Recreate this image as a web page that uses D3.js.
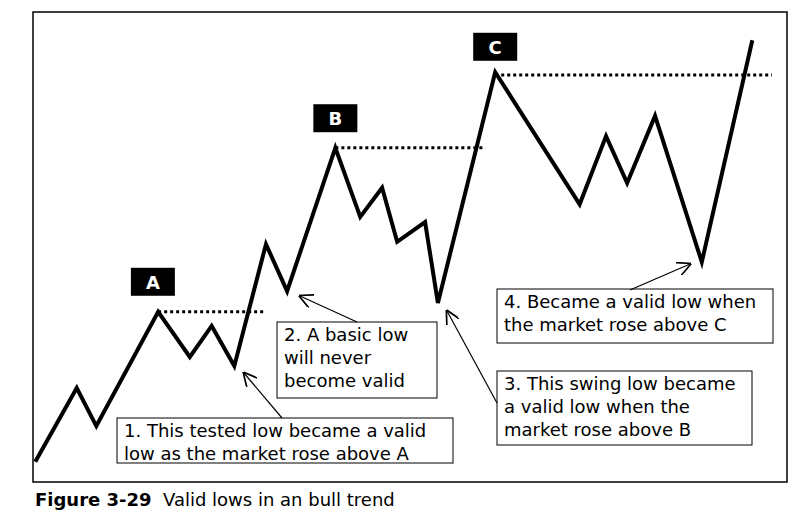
<!DOCTYPE html>
<html><head><meta charset="utf-8">
<script src="https://cdn.jsdelivr.net/npm/d3@7"></script>
<style>body{margin:0;background:#fff}text{font-family:"DejaVu Sans",Verdana,sans-serif}</style>
</head><body><svg id="c" width="807" height="517"></svg>
<script>
// swing path (time, price)
const times  = [0.3,5.8,8.4,16.6,20.8,23.7,26.7,30.9,33.7,40.1,43.4,46.3,48.3,52.0,53.7,61.3,72.5,76.0,78.8,82.5,88.7,95.4];
const prices = [4.3,20,11.9,36.2,26.6,33.2,24.7,50.6,40.6,71.1,56.4,62.6,51.1,55.3,38.1,87.2,59.1,73.6,63.6,77.9,46.8,94.0];
// highs and their dotted levels
const levelNames = ["A","B","C"];
const levelPrice = [36.2,71.1,86.6];
const levelStart = [16.6,40.1,61.3];
const levelEnd   = [30.6,60.0,98.0];
const labelPrice = [42.6,77.4,92.6];
const labelTime  = [15.9,40.1,61.3];

const svg = d3.select("#c");
const x = d3.scaleLinear().domain([0,100]).range([33,787]);
const y = d3.scaleLinear().domain([0,100]).range([482,12]);

svg.append("rect").attr("x",33).attr("y",12).attr("width",754).attr("height",470)
  .attr("fill","none").attr("stroke","#000").attr("stroke-width",1.5);

svg.append("path").datum(times.map((t,i)=>[t,prices[i]]))
  .attr("d",d3.line().x(d=>x(d[0])).y(d=>y(d[1])))
  .attr("fill","none").attr("stroke","#000").attr("stroke-width",4).attr("stroke-linejoin","miter");

levelNames.forEach((n,i)=>{
  svg.append("line").attr("x1",x(levelStart[i])).attr("x2",x(levelEnd[i]))
    .attr("y1",y(levelPrice[i])).attr("y2",y(levelPrice[i]))
    .attr("stroke","#000").attr("stroke-width",3).attr("stroke-dasharray","3,3");
  const cx = x(labelTime[i]), cy = y(labelPrice[i]);
  svg.append("rect").attr("x",cx-22).attr("y",cy-14).attr("width",44).attr("height",28).attr("fill","#000");
  svg.append("text").attr("x",cx).attr("y",cy+7).attr("text-anchor","middle")
    .attr("fill","#fff").attr("font-weight","bold").attr("font-size",18).text(n);
});

const notes = [
  {x:117,y:418,w:336,h:45,lines:["1. This tested low became a valid","low as the market rose above A"]},
  {x:277,y:322,w:160,h:76,lines:["2. A basic low","will never","become valid"]},
  {x:497,y:371,w:255,h:74,lines:["3. This swing low became","a valid low when the","market rose above B"]},
  {x:497,y:289,w:276,h:54,lines:["4. Became a valid low when","the market rose above C"]}
];
notes.forEach(n=>{
  svg.append("rect").attr("x",n.x).attr("y",n.y).attr("width",n.w).attr("height",n.h)
    .attr("fill","#fff").attr("stroke","#000").attr("stroke-width",1);
  n.lines.forEach((l,j)=>svg.append("text").attr("x",n.x+7).attr("y",n.y+19+j*23)
    .attr("font-size",18).text(l));
});

const arrows = [[282,418,244,373],[357,322,300,296],[497,403,447,311],[630,290,690,264]];
svg.append("defs").append("marker").attr("id","ah").attr("viewBox","0 0 10 10")
  .attr("refX",9).attr("refY",5).attr("markerWidth",14).attr("markerHeight",14)
  .attr("markerUnits","userSpaceOnUse").attr("orient","auto")
  .append("path").attr("d","M0,0L10,5L0,10").attr("fill","none").attr("stroke","#000").attr("stroke-width",1.2);
arrows.forEach(a=>svg.append("line").attr("x1",a[0]).attr("y1",a[1]).attr("x2",a[2]).attr("y2",a[3])
  .attr("stroke","#000").attr("stroke-width",1.2).attr("marker-end","url(#ah)"));

const cap = svg.append("text").attr("x",35).attr("y",506).attr("font-size",18);
cap.append("tspan").attr("font-weight","bold").text("Figure 3-29");
cap.append("tspan").text("\u00a0 Valid lows in an bull trend");
</script></body></html>
